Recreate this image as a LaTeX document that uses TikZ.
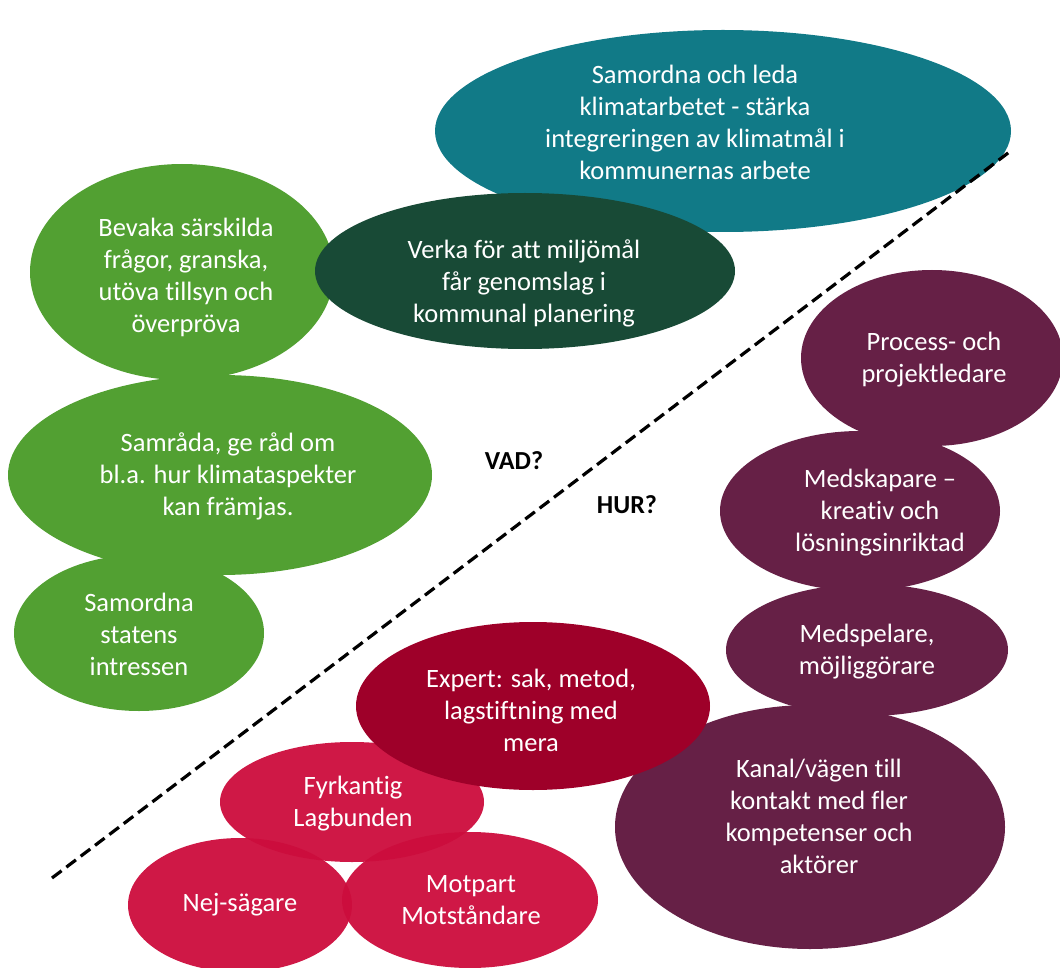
\documentclass[tikz,border=0pt]{standalone}
\usepackage{fontspec}
\usetikzlibrary{shapes.geometric}
\setmainfont[Ligatures={NoCommon,NoRare}]{Carlito}
\definecolor{cteal}{RGB}{17,122,135}
\definecolor{cdkgreen}{RGB}{24,74,54}
\definecolor{cgreen}{RGB}{82,160,50}
\definecolor{cpurple}{RGB}{102,32,70}
\definecolor{cdkred}{RGB}{158,0,41}
\definecolor{cred}{RGB}{204,12,60}
\begin{document}
\begin{tikzpicture}[x=1pt,y=-1pt,
  blob/.style={ellipse,draw=none,inner sep=0pt,outer sep=0pt},
  redblob/.style={blob,fill=cred,fill opacity=0.95},
  txt/.style={text=white,align=center,inner sep=0pt,font=\fontsize{26.5}{32}\selectfont},
  qtxt/.style={text=black,inner sep=0pt,font=\fontsize{26}{30}\selectfont\bfseries},
  divider/.style={dashed,line width=3.2pt,dash pattern=on 12pt off 6pt}]
\useasboundingbox (0,0) rectangle (1060,968);
\begin{scope}
\clip (0,0) rectangle (1060,968);
% top cluster
\node[blob,fill=cteal,minimum width=576pt,minimum height=202pt] (e1) at (723,131) {};
\node[blob,fill=cgreen,minimum width=304pt,minimum height=216pt] (e3) at (182,272) {};
\node[blob,fill=cgreen,minimum width=424pt,minimum height=200pt] (e4) at (220,475) {};
\node[blob,fill=cgreen,minimum width=250pt,minimum height=156pt] (e5) at (139,633) {};
\node[blob,fill=cdkgreen,minimum width=420pt,minimum height=156pt] (e2) at (525,271) {};
% right cluster
\node[blob,fill=cpurple,minimum width=262pt,minimum height=176pt] (e6) at (932,358) {};
\node[blob,fill=cpurple,minimum width=280pt,minimum height=160pt] (e7) at (860,511) {};
\node[blob,fill=cpurple,minimum width=282pt,minimum height=132pt] (e8) at (867,650) {};
\node[blob,fill=cpurple,minimum width=390pt,minimum height=244pt] (e9) at (810,827) {};
% bottom cluster
\node[redblob,minimum width=264pt,minimum height=120pt] (e11) at (352,802) {};
\node[redblob,minimum width=224pt,minimum height=134pt] (e12) at (240,905) {};
\node[redblob,minimum width=256pt,minimum height=136pt] (e13) at (470,900) {};
\node[blob,fill=cdkred,minimum width=354pt,minimum height=168pt] (e10) at (533,706) {};
\end{scope}
% texts
\node[txt] (t1) at (695,122) {Samordna och leda\\klimatarbetet - stärka\\integreringen av klimatmål i\\kommunernas arbete};
\node[txt] (t2) at (524,283) {Verka för att miljömål\\får genomslag i\\kommunal planering};
\node[txt] (t3) at (186,277) {Bevaka särskilda\\frågor, granska,\\utöva tillsyn och\\överpröva};
\node[txt] (t4) at (228,476) {Samråda, ge råd om\\bl.a. hur klimataspekter\\kan främjas.};
\node[txt] (t5) at (139,634) {Samordna\\statens\\intressen};
\node[txt] (t6) at (934,360) {Process- och\\projektledare};
\node[txt] (t7) at (880,513) {Medskapare –\\kreativ och\\lösningsinriktad};
\node[txt] (t8) at (867,652) {Medspelare,\\möjliggörare};
\node[txt] (t9) at (819,816) {Kanal/vägen till\\kontakt med fler\\kompetenser och\\aktörer};
\node[txt] (t10) at (531,710) {Expert: sak, metod,\\lagstiftning med\\mera};
\node[txt] (t11) at (353,804) {Fyrkantig\\Lagbunden};
\node[txt] (t12) at (240,905) {Nej-sägare};
\node[txt] (t13) at (471,900) {Motpart\\Motståndare};
% divider
\coordinate (d1) at (52,878);
\coordinate (d2) at (1012,150);
\draw[divider] (d1) -- (d2);
\node[qtxt] (vad) at (514,461) {VAD?};
\node[qtxt] (hur) at (627,505) {HUR?};
\end{tikzpicture}
\end{document}
